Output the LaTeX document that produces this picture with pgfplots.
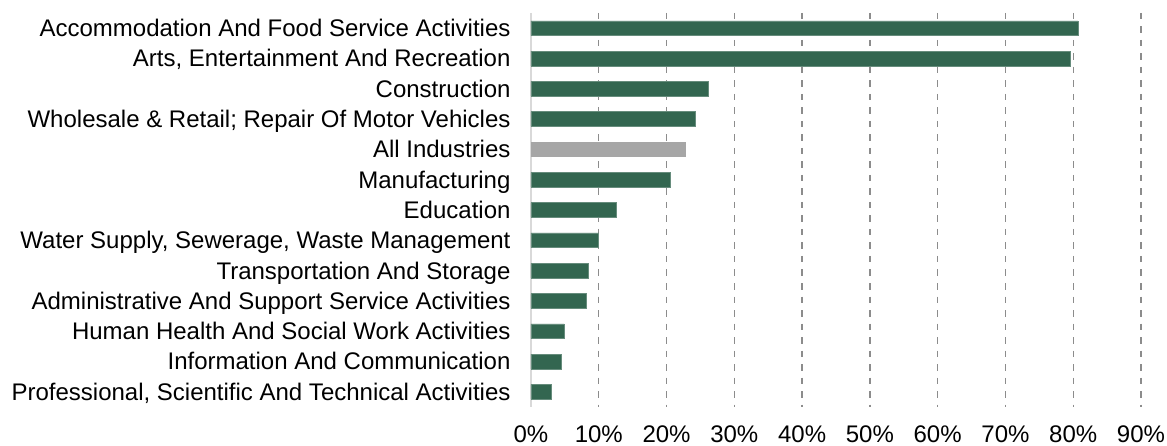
\documentclass[border=0pt]{standalone}
\usepackage{pgfplots}
\pgfplotsset{compat=1.18}
\usepackage{fontspec}
\setmainfont{Liberation Sans}
\definecolor{bargreen}{HTML}{336650}
\definecolor{bargray}{HTML}{A6A6A6}
\definecolor{gridgray}{HTML}{8C8C8C}
\definecolor{axisgray}{HTML}{D9D9D9}
\begin{document}
\begin{tikzpicture}[font=\fontsize{24}{28}\selectfont]
\begin{axis}[
  at={(0pt,0pt)}, anchor=south west,
  scale only axis, width=610pt, height=394pt,
  xmin=0, xmax=90, ymin=-0.5, ymax=12.5, y dir=reverse,
  xbar, bar width=14.7pt, bar shift=0pt,
  axis line style={draw=none},
  tick style={draw=none}, major tick length=0pt,
  xtick={10,20,...,90},
  xticklabels={10\%,20\%,30\%,40\%,50\%,60\%,70\%,80\%,90\%},
  extra x ticks={0}, extra x tick labels={0\%},
  extra x tick style={grid=major, major grid style={solid, draw=axisgray, line width=1.5pt}},
  xmajorgrids,
  major grid style={draw=gridgray, line width=1.3pt, dash pattern=on 6.5pt off 7pt},
  ytick={0,...,12},
  yticklabels={Accommodation And Food Service Activities,
    {Arts, Entertainment And Recreation},
    Construction,
    Wholesale \& Retail; Repair Of Motor Vehicles,
    All Industries,
    Manufacturing,
    Education,
    {Water Supply, Sewerage, Waste Management},
    Transportation And Storage,
    Administrative And Support Service Activities,
    Human Health And Social Work Activities,
    Information And Communication,
    {Professional, Scientific And Technical Activities}},
  xticklabel style={yshift=-15pt},
  yticklabel style={anchor=base east, xshift=-17pt, yshift=-8.4pt},
]
\addplot[fill=bargreen, draw=bargreen!75!white, line width=0.6pt] coordinates {
 (80.7,0) (79.6,1) (26.1,2) (24.3,3) (20.6,5) (12.6,6) (10.0,7)
 (8.5,8) (8.1,9) (4.9,10) (4.5,11) (3.0,12)};
\addplot[fill=bargray, draw=bargray, line width=0.6pt] coordinates {(22.8,4)};
\end{axis}
\pgfresetboundingbox
\path (-531pt,-39pt) rectangle (636pt,407pt);
\end{tikzpicture}
\end{document}
